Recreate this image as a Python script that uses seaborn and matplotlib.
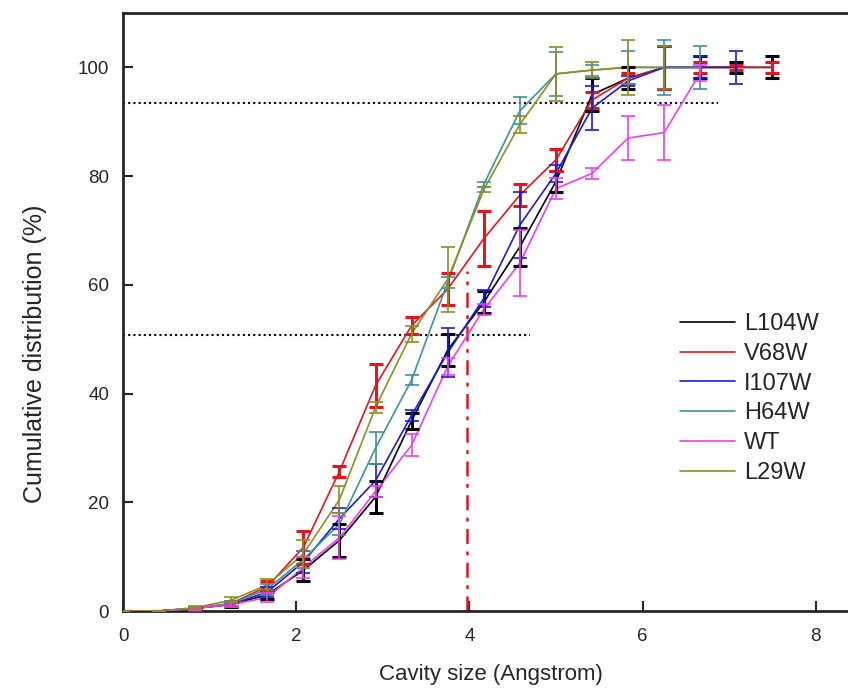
import numpy as np
import pandas as pd
import matplotlib
matplotlib.use('Agg')
import matplotlib.pyplot as plt
import seaborn as sns

# cavity size grid (Angstrom), step 5/12
x_all = [0.0, 0.417, 0.833, 1.25, 1.667, 2.083, 2.5, 2.917, 3.333, 3.75,
         4.167, 4.583, 5.0, 5.417, 5.833, 6.25, 6.667, 7.083, 7.5]

labels = ['L104W', 'V68W', 'I107W', 'H64W', 'WT', 'L29W']
colors = ['#000000', '#e8141c', '#1a1ae6', '#3a9696', '#f03cf0', '#8f8f1e']

l104w = [0, 0, 0.5, 1.2, 3, 7.5, 13, 21, 35, 48, 56.8, 67, 79, 95, 98, 100, 100, 100, 100]
l104w_err = [0, 0, 0.3, 0.4, 0.8, 2, 3, 3, 1.5, 3, 2, 3.5, 2, 3, 2, 4, 2, 1, 2]

v68w = [0, 0, 0.5, 1.4, 4.5, 11.7, 25.7, 41.5, 52.5, 59.2, 68.5, 76.5, 83, 94, 98, 100, 100, 100, 100]
v68w_err = [0, 0, 0.3, 0.5, 1, 3, 1, 4, 1.5, 3, 5, 2, 2, 1.5, 1, 4, 1, 0.5, 1]

i107w = [0, 0, 0.5, 1.2, 3.5, 9, 17, 24, 36, 47.5, 57.5, 71, 80.5, 92.5, 97.5, 100, 100, 100]
i107w_err = [0, 0, 0.3, 0.4, 1, 2, 2, 3, 1, 4.5, 1.5, 6, 1.5, 4, 1, 4, 2, 3]

h64w = [0, 0, 0.5, 1.4, 4, 9.5, 16, 30, 42.5, 60.5, 78.5, 92, 98.8, 99.5, 100, 100, 100]
h64w_err = [0, 0, 0.3, 0.4, 1, 1.5, 2, 3, 1, 1, 0.5, 2.5, 4, 1, 3, 5, 4]

wt = [0, 0, 0.5, 1.2, 2.5, 8, 13.5, 22, 30.5, 45, 55.5, 64, 77.7, 80.5, 87, 88, 99]
wt_err = [0, 0, 0.3, 0.4, 0.8, 2, 4, 1, 2, 1.5, 1, 6, 2, 1, 4, 5, 1.5]

l29w = [0, 0, 0.6, 2, 4.8, 10.5, 20.5, 37.5, 51, 61, 77.5, 89.5, 98.8, 99.5, 100, 100]
l29w_err = [0, 0, 0.3, 0.5, 1, 2.5, 2.5, 1, 1.5, 6, 0.5, 1.5, 5, 1.5, 5, 4]

values = [l104w, v68w, i107w, h64w, wt, l29w]
errors = [l104w_err, v68w_err, i107w_err, h64w_err, wt_err, l29w_err]
thick = [True, True, False, False, False, False]

# reference guides
h_lines = [(93.5, 6.87), (50.8, 4.70)]   # (y level, x end)
v_line_x, v_line_top = 3.97, 62.5

rows = []
for name, ys, es in zip(labels, values, errors):
    for xv, yv, ev in zip(x_all, ys, es):
        rows.append({'size': xv, 'cum': yv, 'err': ev, 'mutant': name})
df = pd.DataFrame(rows)

sns.set_style('ticks')
plt.rcParams['font.family'] = ['Liberation Sans', 'DejaVu Sans']

fig = plt.figure(figsize=(8.48, 6.89), dpi=100)
ax = fig.add_axes([123 / 848, 78 / 689, 736 / 848, 598 / 689])

sns.lineplot(data=df, x='size', y='cum', hue='mutant', hue_order=labels,
             palette=colors, linewidth=1.2, ax=ax, legend=True, zorder=3)

for name, col, tk in zip(labels, colors, thick):
    sub = df[df['mutant'] == name]
    lw = 2.2 if tk else 1.2
    ax.errorbar(sub['size'], sub['cum'], yerr=sub['err'], fmt='none',
                ecolor=col, elinewidth=lw, capsize=5, capthick=lw, zorder=4)

for yv, xe in h_lines:
    ax.plot([0, xe], [yv, yv], color='black', linestyle=(0, (1, 1.5)),
            linewidth=1.5, zorder=2)
ax.plot([v_line_x, v_line_x], [0, v_line_top], color='#e8141c',
        linestyle=(0, (6, 3, 1.5, 3)), linewidth=1.8, zorder=2)

ax.set_xlim(0, 8.5)
ax.set_ylim(0, 110)
ax.set_xticks([0, 2, 4, 6, 8])
ax.set_yticks([0, 20, 40, 60, 80, 100])
ax.tick_params(direction='in', length=7, width=1.5, labelsize=13.5)
ax.tick_params(axis='x', pad=12)
ax.tick_params(axis='y', pad=10)
for sp in ax.spines.values():
    sp.set_linewidth(2)
ax.set_xlabel('Cavity size (Angstrom)', fontsize=16, labelpad=14)
ax.set_ylabel('Cumulative distribution (%)', fontsize=18)
ax.yaxis.set_label_coords(-76 / 736, 0.43)

handles, _ = ax.get_legend_handles_labels()
leg = ax.legend(handles, labels, loc='upper left', frameon=False,
                bbox_to_anchor=(680 / 848, 1 - 313 / 689),
                bbox_transform=fig.transFigure, borderpad=0, borderaxespad=0,
                handlelength=2.35, handletextpad=0.35, labelspacing=0.33,
                fontsize=17)
for line in leg.get_lines():
    line.set_linewidth(1.2)

fig.savefig('out.png', dpi=100)
